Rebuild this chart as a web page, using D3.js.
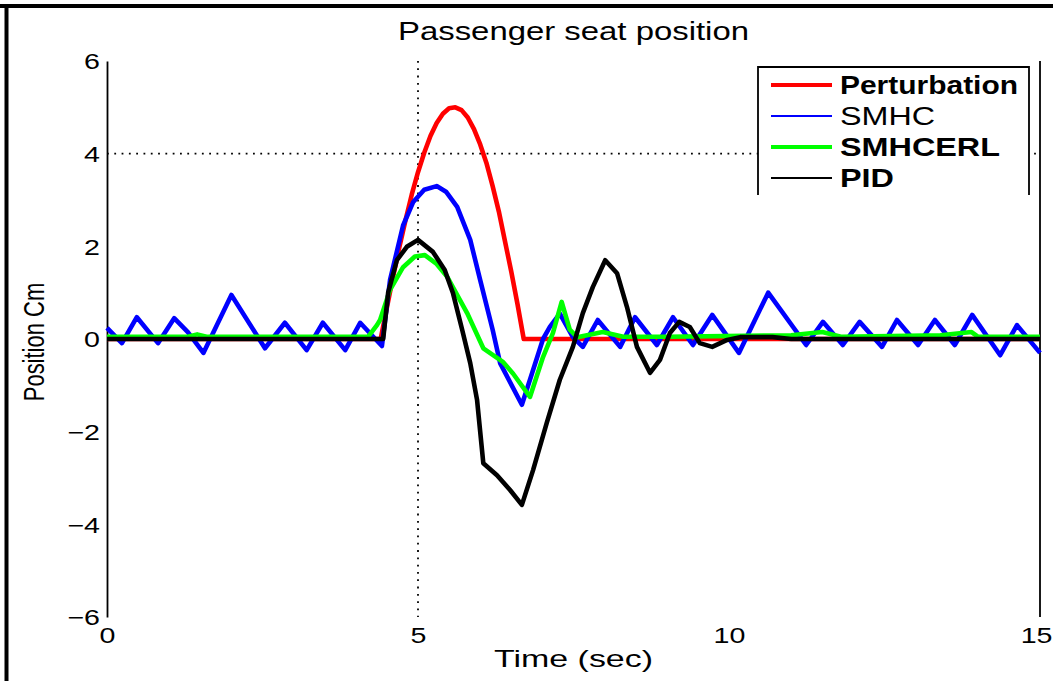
<!DOCTYPE html>
<html>
<head>
<meta charset="utf-8">
<script src="https://cdn.jsdelivr.net/npm/d3@7"></script>
<style>
  html, body { margin: 0; padding: 0; background: #fff; }
  svg { display: block; }
  text { font-family: "Liberation Sans", Arial, Helvetica, sans-serif; fill: #000; }
</style>
</head>
<body>
<svg id="chart" width="1053" height="681"></svg>
<script>
// ---------------- data ----------------
const title = "Passenger seat position";
const xLabel = "Time (sec)";
const yLabel = "Position Cm";
const xTicks = [0, 5, 10, 15];
const yTicks = [-6, -4, -2, 0, 2, 4, 6];
const seriesNames = ["Perturbation", "SMHC", "SMHCERL", "PID"];

const pertT = [0, 4.4, 4.5, 4.6, 4.7, 4.8, 4.9, 5.0, 5.1, 5.2, 5.3, 5.4, 5.5, 5.6, 5.7, 5.8, 5.9, 6.0, 6.1, 6.2, 6.3, 6.4, 6.5, 6.6, 6.7, 15];
const pertV = [0, 0, 0.68, 1.35, 1.98, 2.57, 3.12, 3.6, 4.02, 4.38, 4.66, 4.86, 4.98, 5.0, 4.94, 4.78, 4.53, 4.2, 3.8, 3.3, 2.75, 2.1, 1.45, 0.75, 0, 0];

const smhcT = [0, 0.24, 0.48, 0.82, 1.08, 1.3, 1.55, 2.0, 2.54, 2.86, 3.21, 3.47, 3.83, 4.07, 4.42, 4.55, 4.76, 4.92, 5.1, 5.3, 5.45, 5.63, 5.84, 6.0, 6.2, 6.32, 6.67, 6.8, 7.01, 7.12, 7.28, 7.49, 7.65, 7.89, 8.25, 8.49, 8.84, 9.1, 9.42, 9.73, 10.16, 10.63, 11.24, 11.51, 11.83, 12.1, 12.46, 12.7, 13.04, 13.31, 13.63, 13.91, 14.36, 14.63, 15.0];
const smhcV = [0.24, -0.09, 0.47, -0.09, 0.45, 0.15, -0.3, 0.95, -0.2, 0.35, -0.24, 0.35, -0.24, 0.35, -0.15, 1.27, 2.45, 2.95, 3.22, 3.3, 3.18, 2.85, 2.14, 1.27, 0.2, -0.52, -1.42, -0.88, 0, 0.26, 0.55, 0.04, -0.17, 0.41, -0.17, 0.47, -0.13, 0.47, -0.13, 0.52, -0.3, 1.0, -0.13, 0.37, -0.13, 0.37, -0.17, 0.41, -0.13, 0.41, -0.13, 0.52, -0.35, 0.3, -0.3];

const erlT = [0, 1.3, 1.45, 1.6, 4.2, 4.34, 4.39, 4.55, 4.76, 4.95, 5.11, 5.3, 5.47, 5.79, 6.05, 6.37, 6.53, 6.8, 7.01, 7.17, 7.31, 7.44, 7.56, 7.97, 8.3, 9.0, 11.0, 11.5, 11.8, 13.4, 13.9, 14.0, 15];
const erlV = [0.05, 0.05, 0.1, 0.05, 0.05, 0.3, 0.41, 1.06, 1.55, 1.78, 1.81, 1.62, 1.34, 0.56, -0.2, -0.5, -0.75, -1.25, -0.39, 0.13, 0.8, 0.2, 0.04, 0.15, 0.05, 0.05, 0.08, 0.15, 0.05, 0.08, 0.15, 0.05, 0.05];

const pidT = [0, 4.44, 4.52, 4.66, 4.82, 5.0, 5.24, 5.43, 5.56, 5.71, 5.84, 5.95, 6.05, 6.27, 6.48, 6.67, 6.85, 7.07, 7.28, 7.49, 7.65, 7.81, 8.01, 8.2, 8.36, 8.52, 8.73, 8.89, 9.05, 9.2, 9.37, 9.53, 9.73, 9.97, 10.18, 10.7, 11.0, 15];
const pidV = [0, 0, 1.0, 1.7, 1.99, 2.14, 1.88, 1.49, 1.0, 0.2, -0.52, -1.32, -2.68, -2.94, -3.26, -3.58, -2.83, -1.81, -0.88, -0.17, 0.56, 1.12, 1.7, 1.42, 0.69, -0.17, -0.73, -0.45, 0.13, 0.37, 0.26, -0.09, -0.17, -0.02, 0.04, 0.04, 0, 0];

const refX = 5;   // dotted vertical reference
const refY = 4;   // dotted horizontal reference

// ---------------- layout ----------------
const svg = d3.select("#chart");
const plot = { left: 107, right: 1040, top: 61, bottom: 617 };
const x = d3.scaleLinear().domain([0, 15]).range([plot.left, plot.right]);
const y = d3.scaleLinear().domain([-6, 6]).range([plot.bottom, plot.top]);
const stretch = 1.3;

// outer frame (top + left only, as in reference)
svg.append("line").attr("x1", 0).attr("x2", 1053).attr("y1", 6).attr("y2", 6)
  .attr("stroke", "#000").attr("stroke-width", 4);
svg.append("line").attr("x1", 6.5).attr("x2", 6.5).attr("y1", 4).attr("y2", 681)
  .attr("stroke", "#000").attr("stroke-width", 4);

// reference dotted lines
svg.append("line")
  .attr("x1", x(refX)).attr("x2", x(refX)).attr("y1", y(6)).attr("y2", y(-6))
  .attr("stroke", "#000").attr("stroke-width", 1.8).attr("stroke-dasharray", "1.8,5.5");
svg.append("line")
  .attr("x1", x(0)).attr("x2", x(15)).attr("y1", y(refY)).attr("y2", y(refY))
  .attr("stroke", "#000").attr("stroke-width", 1.8).attr("stroke-dasharray", "1.8,5.5");

// axes
const yAxis = svg.append("g").attr("transform", `translate(${plot.left},0)`)
  .call(d3.axisLeft(y).tickValues(yTicks).tickSize(0).tickSizeOuter(0)
    .tickFormat(d => d < 0 ? "\u2212" + Math.abs(d) : String(d)));
yAxis.select(".domain").attr("stroke", "#000").attr("stroke-width", 1.8);
yAxis.selectAll(".tick text")
  .attr("font-size", 22).attr("font-family", "Liberation Sans, Arial, sans-serif")
  .attr("fill", "#000").attr("text-anchor", "end")
  .attr("x", -7 / stretch).attr("dy", "0.36em")
  .attr("transform", `scale(${stretch},1)`);

const xAxis = svg.append("g").attr("transform", `translate(0,${plot.bottom})`)
  .call(d3.axisBottom(x).tickValues(xTicks).tickSize(0).tickSizeOuter(0));
xAxis.select(".domain").remove();
xAxis.selectAll(".tick text")
  .attr("font-size", 22).attr("font-family", "Liberation Sans, Arial, sans-serif")
  .attr("fill", "#000")
  .attr("text-anchor", (d, i, n) => i === n.length - 1 ? "end" : "middle")
  .attr("x", (d, i, n) => i === n.length - 1 ? 12 / stretch : 0)
  .attr("y", 26).attr("dy", 0)
  .attr("transform", `scale(${stretch},1)`);

// right axis line
svg.append("line").attr("x1", plot.right).attr("x2", plot.right)
  .attr("y1", y(6)).attr("y2", y(-6))
  .attr("stroke", "#000").attr("stroke-width", 1.8);

// series
const line = d3.line().x(d => x(d[0])).y(d => y(d[1]));
const zipS = (t, v) => t.map((ti, i) => [ti, v[i]]);
const series = [
  { name: seriesNames[0], data: zipS(pertT, pertV), color: "#ff0000", w: 4.6, lw: 4 },
  { name: seriesNames[1], data: zipS(smhcT, smhcV), color: "#0000ff", w: 4.6, lw: 2 },
  { name: seriesNames[2], data: zipS(erlT, erlV), color: "#00ff00", w: 4.6, lw: 4 },
  { name: seriesNames[3], data: zipS(pidT, pidV), color: "#000000", w: 4.6, lw: 2 }
];
svg.append("g").selectAll("path").data(series).join("path")
  .attr("d", d => line(d.data))
  .attr("fill", "none").attr("stroke", d => d.color)
  .attr("stroke-width", d => d.w).attr("stroke-linejoin", "round");

// title & labels
svg.append("text").text(title)
  .attr("x", (plot.left + plot.right) / 2).attr("y", 40)
  .attr("text-anchor", "middle").attr("font-size", 25)
  .attr("textLength", 351).attr("lengthAdjust", "spacingAndGlyphs");
svg.append("text").text(xLabel)
  .attr("x", (plot.left + plot.right) / 2).attr("y", 667)
  .attr("text-anchor", "middle").attr("font-size", 24)
  .attr("textLength", 159).attr("lengthAdjust", "spacingAndGlyphs");
svg.append("text").text(yLabel)
  .attr("transform", `translate(44,342) rotate(-90) scale(1,${stretch})`)
  .attr("text-anchor", "middle").attr("font-size", 22);

// legend
const lg = { left: 758, right: 1029, top: 67, bottom: 195, row0: 85, step: 31 };
const legend = svg.append("g");
legend.append("rect").attr("x", lg.left).attr("y", lg.top)
  .attr("width", lg.right - lg.left).attr("height", lg.bottom - lg.top).attr("fill", "#fff");
legend.append("path")
  .attr("d", `M${lg.left},${lg.bottom}V${lg.top}H${lg.right}V${lg.bottom}`)
  .attr("fill", "none").attr("stroke", "#000").attr("stroke-width", 1.8);
const legendWidths = [178, 95, 160, 54];
const legendWeights = ["bold", "normal", "bold", "bold"];
const rows = legend.selectAll("g.row").data(series).join("g")
  .attr("class", "row")
  .attr("transform", (d, i) => `translate(0,${lg.row0 + i * lg.step})`);
rows.append("line").attr("x1", 771).attr("x2", 832).attr("y1", 0).attr("y2", 0)
  .attr("stroke", d => d.color).attr("stroke-width", d => d.lw);
rows.append("text").text(d => d.name)
  .attr("x", 840).attr("y", 9)
  .attr("font-size", 25)
  .attr("font-weight", (d, i) => legendWeights[i])
  .attr("textLength", (d, i) => legendWidths[i])
  .attr("lengthAdjust", "spacingAndGlyphs");
</script>
</body>
</html>
